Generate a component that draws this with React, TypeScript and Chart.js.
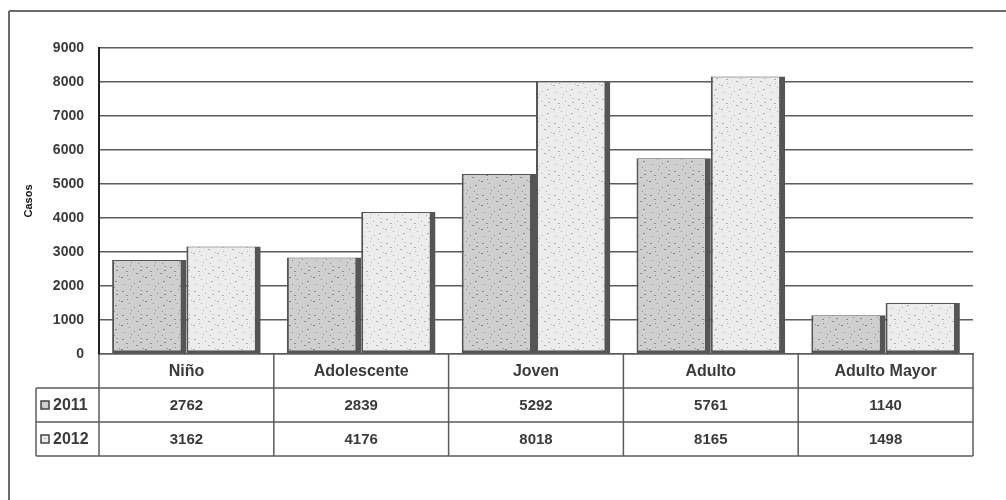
import React, { useEffect, useRef } from "react";
import { Chart, registerables } from "chart.js";

Chart.register(...registerables);

const categories = ["Niño", "Adolescente", "Joven", "Adulto", "Adulto Mayor"];
const seriesNames = ["2011", "2012"];
const values2011 = [2762, 2839, 5292, 5761, 1140];
const values2012 = [3162, 4176, 8018, 8165, 1498];
const yTicks = [0, 1000, 2000, 3000, 4000, 5000, 6000, 7000, 8000, 9000];
const yTitle = "Casos";

const FONT = "'Liberation Sans', 'DejaVu Sans', sans-serif";
const TEXT = "#3a3a3a";
const LINE = "#5c5c5c";

const SPECKS: [number, number][] = [
  [2, 3], [7, 11], [13, 5], [19, 17], [4, 20], [11, 22], [16, 9], [21, 2],
  [9, 15], [1, 13], [23, 12], [14, 19], [6, 7], [18, 23], [10, 1], [20, 6],
];

function makePattern(base: string, dot: string): CanvasPattern | string {
  const c = document.createElement("canvas");
  c.width = 24;
  c.height = 24;
  const g = c.getContext("2d");
  if (!g) return base;
  g.fillStyle = base;
  g.fillRect(0, 0, 24, 24);
  g.fillStyle = dot;
  SPECKS.forEach(([x, y], i) => {
    g.fillRect(x, y, i % 3 === 0 ? 2 : 1, 1);
  });
  const p = g.createPattern(c, "repeat");
  return p || base;
}

const tablePlugin = {
  id: "dataTable",
  beforeDraw(chart: any) {
    const { ctx, width, height } = chart;
    ctx.save();
    ctx.fillStyle = "#ffffff";
    ctx.fillRect(0, 0, width, height);
    ctx.strokeStyle = "#6a6a6a";
    ctx.lineWidth = 2;
    ctx.beginPath();
    ctx.moveTo(9, 11);
    ctx.lineTo(width, 11);
    ctx.moveTo(9, 11);
    ctx.lineTo(9, height);
    ctx.stroke();
    ctx.restore();
  },
  afterDraw(chart: any) {
    const { ctx, chartArea } = chart;
    const xScale = chart.scales.x;
    const left = chartArea.left;
    const right = chartArea.right;
    const top = chartArea.bottom;
    const rowH = 34;
    const legendLeft = 36;
    const n = categories.length;
    const catW = (right - left) / n;
    ctx.save();
    ctx.strokeStyle = LINE;
    ctx.lineWidth = 1.5;
    ctx.beginPath();
    for (let r = 1; r <= 3; r++) {
      const y = top + rowH * r;
      ctx.moveTo(legendLeft, y);
      ctx.lineTo(right, y);
    }
    ctx.moveTo(legendLeft, top + rowH);
    ctx.lineTo(legendLeft, top + rowH * 3);
    ctx.moveTo(left, top);
    ctx.lineTo(left, top + rowH * 3);
    for (let i = 1; i <= n; i++) {
      const x = left + catW * i;
      ctx.moveTo(x, top);
      ctx.lineTo(x, top + rowH * 3);
    }
    ctx.stroke();

    const rows = [values2011, values2012];
    ctx.fillStyle = TEXT;
    ctx.font = `bold 15px ${FONT}`;
    ctx.textAlign = "center";
    ctx.textBaseline = "middle";
    rows.forEach((vals, r) => {
      const yc = top + rowH * (r + 1) + rowH / 2;
      vals.forEach((v, i) => {
        const xc = xScale.getPixelForValue(i);
        ctx.fillText(String(v), xc, yc + 1);
      });
    });

    chart.data.datasets.forEach((ds: any, r: number) => {
      const yc = top + rowH * (r + 1) + rowH / 2;
      ctx.fillStyle = ds.backgroundColor;
      ctx.fillRect(41, yc - 4, 8, 8);
      ctx.strokeStyle = "#444";
      ctx.lineWidth = 1.5;
      ctx.strokeRect(41, yc - 4, 8, 8);
      ctx.fillStyle = TEXT;
      ctx.textAlign = "left";
      ctx.font = `bold 16px ${FONT}`;
      ctx.fillText(seriesNames[r], 53, yc + 1);
    });
    ctx.restore();
  },
};

export default function App() {
  const ref = useRef<HTMLCanvasElement | null>(null);

  useEffect(() => {
    if (!ref.current) return;
    const fill2011 = makePattern("#cfcfcf", "#8a8a8a");
    const fill2012 = makePattern("#ececec", "#b0b0b0");
    const barBorder = { left: 2, right: 6, top: 1, bottom: 3 };
    const chart = new Chart(ref.current, {
      type: "bar",
      data: {
        labels: categories,
        datasets: [
          {
            label: seriesNames[0],
            data: values2011,
            backgroundColor: fill2011 as any,
            borderColor: "#555555",
            borderWidth: barBorder as any,
            borderSkipped: false,
            categoryPercentage: 0.85,
            barPercentage: 1.0,
          },
          {
            label: seriesNames[1],
            data: values2012,
            backgroundColor: fill2012 as any,
            borderColor: "#555555",
            borderWidth: barBorder as any,
            borderSkipped: false,
            categoryPercentage: 0.85,
            barPercentage: 1.0,
          },
        ],
      },
      options: {
        responsive: false,
        animation: false,
        layout: { padding: { left: 0, top: 48, right: 33, bottom: 44 } },
        plugins: {
          legend: { display: false },
          tooltip: { enabled: false },
          title: { display: false },
        },
        scales: {
          x: {
            grid: { display: false, drawTicks: false },
            border: { display: true, color: LINE, width: 1.5 },
            ticks: {
              padding: 8,
              color: TEXT,
              font: { family: FONT, size: 16, weight: "bold" },
            },
            afterFit(scale: any) {
              scale.height = 102;
            },
          },
          y: {
            min: 0,
            max: yTicks[yTicks.length - 1],
            afterBuildTicks(scale: any) {
              scale.ticks = yTicks.map((v) => ({ value: v }));
            },
            grid: { color: LINE, lineWidth: 1.5, drawTicks: false },
            border: { display: true, color: "#222222", width: 2 },
            ticks: {
              padding: 15,
              color: TEXT,
              font: { family: FONT, size: 14, weight: "bold" },
              callback: (v: any) => String(v),
            },
            title: {
              display: true,
              text: yTitle,
              color: "#111",
              padding: { top: 22, bottom: 0 },
              font: { family: FONT, size: 11, weight: "bold" },
            },
            afterFit(scale: any) {
              scale.width = 99;
            },
          },
        },
      },
      plugins: [tablePlugin],
    });
    return () => chart.destroy();
  }, []);

  return (
    <canvas
      ref={ref}
      width={1006}
      height={500}
      style={{ position: "fixed", left: 0, top: 0, width: 1006, height: 500 }}
    />
  );
}
